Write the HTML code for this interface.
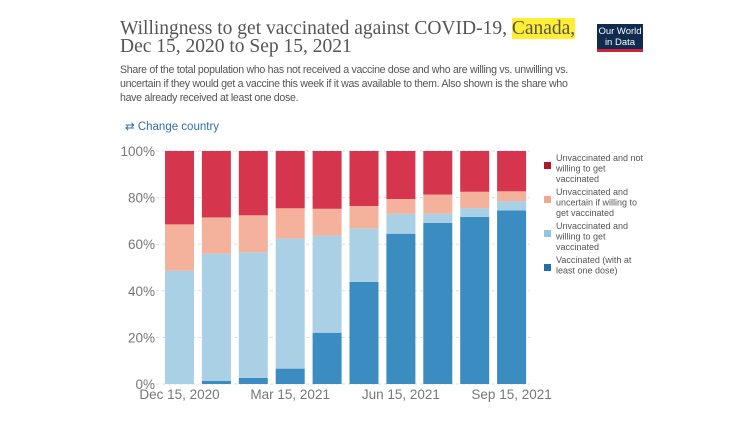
<!DOCTYPE html>
<html><head><meta charset="utf-8"><style>
body{margin:0;background:#fff;width:749px;height:421px;overflow:hidden;position:relative;font-family:"Liberation Sans",sans-serif}
.t{position:absolute;left:120px;top:20px;font-family:"Liberation Serif",serif;font-size:19.5px;line-height:18px;color:#555}
.hl{background:#ffee33}
.s{position:absolute;left:120px;top:63px;white-space:nowrap;font-size:10.6px;line-height:14px;color:#555;letter-spacing:-0.3px}
.cc{position:absolute;left:125px;top:119px;font-size:11.5px;color:#2e6fae}
.logo{position:absolute;left:597px;top:24px;width:46px;height:28px;background:#0f2b4f;color:#fff;font-size:9.5px;line-height:10.5px;text-align:center;box-sizing:border-box;padding-top:3px;border-bottom:3px solid #c8243c}
</style></head><body>
<div class="t">Willingness to get vaccinated against COVID-19, <span class="hl">Canada,</span><br>Dec 15, 2020 to Sep 15, 2021</div>
<div class="s">Share of the total population who has not received a vaccine dose and who are willing vs. unwilling vs.<br>uncertain if they would get a vaccine this week if it was available to them. Also shown is the share who<br>have already received at least one dose.</div>
<div class="cc">⇄ Change country</div>
<div class="logo">Our World<br>in Data</div>
<svg id="c" width="749" height="421" style="position:absolute;left:0;top:0"></svg>
<script>
const cats=["Dec 15, 2020","Jan 2021","Feb 2021","Mar 15, 2021","Apr 2021","May 2021","Jun 15, 2021","Jul 2021","Aug 2021","Sep 15, 2021"];
const vaccinated=[0,1.3,2.6,6.6,22,43.8,64.5,69.1,71.7,74.5];
const willing=[48.6,54.6,53.9,55.8,41.7,23,8.5,4,3.8,4];
const uncertain=[19.9,15.6,15.9,13,11.5,9.6,6.4,8.2,7,4.2];
const notWilling=[31.5,28.5,27.6,24.6,24.8,23.6,20.6,18.7,17.5,17.3];
const yTicks=[0,20,40,60,80,100];
const xTickIdx=[0,3,6,9];
const series=[["vaccinated",vaccinated,"#3a8cc1"],["willing",willing,"#a9d0e5"],["uncertain",uncertain,"#f4b29c"],["not-willing",notWilling,"#d6354e"]];
const legend=[["Unvaccinated and not|willing to get|vaccinated","#b2182b"],["Unvaccinated and|uncertain if willing to|get vaccinated","#f0a98e"],["Unvaccinated and|willing to get|vaccinated","#92c5de"],["Vaccinated (with at|least one dose)","#2371aa"]];
const svg=document.getElementById('c'),NS="http://www.w3.org/2000/svg";
const y0=384,y1=151,xL=150,x0=165,pitch=36.9,bw=29;
const Y=v=>y0-(v/100)*(y0-y1);
const X=i=>x0+i*pitch;
function mk(t,a){const e=document.createElementNS(NS,t);for(const k in a)e.setAttribute(k,a[k]);svg.appendChild(e);return e;}
yTicks.forEach(t=>{
 const l=mk('line',{x1:xL,x2:530,y1:Y(t),y2:Y(t),stroke:'#ddd','stroke-dasharray':'3,3'});
 
 
 const tx=mk('text',{x:155,y:Y(t)+5,'text-anchor':'end','font-size':'13.5','fill':'#777','font-family':'Liberation Sans'});
 tx.textContent=t+'%';
 
 
});
cats.forEach((c,i)=>{
 let acc=0;
 series.forEach(s=>{
  const v=s[1][i];
  const r=mk('rect',{x:X(i),y:Y(acc+v),width:bw,height:Y(acc)-Y(acc+v),fill:s[2]});
  
  
  acc+=v;
 });
});
xTickIdx.forEach(i=>{
 const tx=mk('text',{x:X(i)+bw/2,y:399,'text-anchor':'middle','font-size':'13.5','fill':'#777','font-family':'Liberation Sans'});
 tx.textContent=cats[i];
 
 
});
let ly=153;
legend.forEach(l=>{
 const lines=l[0].split('|');
 const sq=mk('rect',{x:544,y:ly+13-4,width:7,height:7,fill:l[1]});
 
 
 lines.forEach((ln,j)=>{
  const tx=mk('text',{x:556,y:ly+8+j*10.5,'font-size':'9','fill':'#555','font-family':'Liberation Sans'});
  tx.textContent=ln;
  
  
 });
 ly+=lines.length*10.5+2.5;
});
</script>
</body></html>
